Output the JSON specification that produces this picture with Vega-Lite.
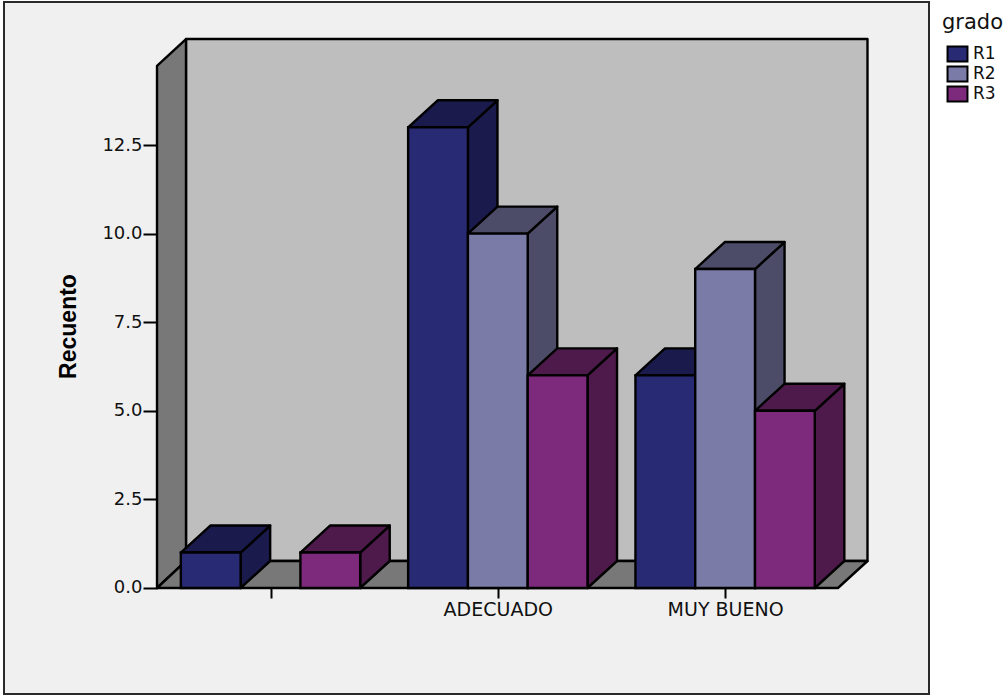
{
  "$schema": "https://vega.github.io/schema/vega-lite/v6.json",
  "width": 925,
  "height": 692,
  "autosize": {"type": "none"},
  "padding": {"left": 4, "top": 2, "right": 77, "bottom": 1},
  "background": "#ffffff",
  "view": {"fill": "#f0f0f0", "stroke": "#2a2a2a", "strokeWidth": 2},
  "data": {"values": [
    {"categoria": "", "grado": "R1", "valor": 1},
    {"categoria": "", "grado": "R3", "valor": 1},
    {"categoria": "ADECUADO", "grado": "R1", "valor": 13},
    {"categoria": "ADECUADO", "grado": "R2", "valor": 10},
    {"categoria": "ADECUADO", "grado": "R3", "valor": 6},
    {"categoria": "MUY BUENO", "grado": "R1", "valor": 6},
    {"categoria": "MUY BUENO", "grado": "R2", "valor": 9},
    {"categoria": "MUY BUENO", "grado": "R3", "valor": 5}
  ]},
  "transform": [
    {"calculate": "indexof(['', 'ADECUADO', 'MUY BUENO'], datum.categoria) + (indexof(['R1', 'R2', 'R3'], datum.grado) - 1.5) * 0.263", "as": "izq"},
    {"calculate": "datum.izq + 0.263", "as": "der"},
    {"calculate": "datum.categoria + '-' + datum.grado", "as": "barra"}
  ],
  "encoding": {
    "x": {
      "field": "cx",
      "type": "quantitative",
      "scale": {"domain": [-1.1725, 2.897], "nice": false, "zero": false},
      "axis": {
        "values": [0, 1, 2],
        "labelExpr": "['', 'ADECUADO', 'MUY BUENO'][datum.value]",
        "title": null,
        "grid": false,
        "domain": false,
        "offset": -106,
        "tickSize": 10,
        "tickWidth": 2,
        "tickColor": "#000000",
        "labelFont": "DejaVu Sans",
        "labelFontSize": 19,
        "labelColor": "#111111",
        "labelPadding": 2,
        "labelOverlap": false
      }
    },
    "y": {
      "field": "cy",
      "type": "quantitative",
      "stack": null,
      "scale": {"domain": [-2.991, 16.535], "nice": false, "zero": false},
      "axis": {
        "values": [0, 2.5, 5, 7.5, 10, 12.5],
        "format": ".1f",
        "title": "Recuento",
        "titleFont": "Liberation Sans",
        "titleFontWeight": "bold",
        "titleFontSize": 23,
        "titleColor": "#000000",
        "titleX": -77,
        "titleY": 324,
        "grid": false,
        "domain": false,
        "offset": -153,
        "tickSize": 14,
        "tickWidth": 2,
        "tickColor": "#000000",
        "labelFont": "DejaVu Sans",
        "labelFontSize": 18,
        "labelColor": "#111111",
        "labelPadding": 1
      }
    },
    "y2": {"field": "cy2"}
  },
  "layer": [
    {
      "data": {"values": [
        {"pared": "fondo", "cx": -0.3718, "cy": 15.49, "cy2": 0.762},
        {"pared": "fondo", "cx": 2.6264, "cy": 15.49, "cy2": 0.762},
        {"pared": "lateral", "cx": -0.4993, "cy": 14.73, "cy2": 0},
        {"pared": "lateral", "cx": -0.3718, "cy": 15.49, "cy2": 0.762},
        {"pared": "suelo", "cx": -0.4993, "cy": 0, "cy2": 0},
        {"pared": "suelo", "cx": -0.3718, "cy": 0.762, "cy2": 0},
        {"pared": "suelo", "cx": 2.4964, "cy": 0.762, "cy2": 0},
        {"pared": "suelo", "cx": 2.6264, "cy": 0.762, "cy2": 0.762}
      ]},
      "mark": {"type": "area", "stroke": "#000000", "strokeWidth": 2.4, "strokeJoin": "round", "opacity": 1},
      "encoding": {
        "color": {
          "field": "pared",
          "type": "nominal",
          "scale": {"domain": ["fondo", "lateral", "suelo"], "range": ["#bebebe", "#787878", "#787878"]},
          "legend": null
        }
      }
    },
    {
      "transform": [
        {"calculate": "[datum.der, datum.der + 0.13]", "as": "cx"},
        {"calculate": "[datum.valor, datum.valor + 0.762]", "as": "cy"},
        {"calculate": "[0, 0.762]", "as": "cy2"},
        {"flatten": ["cx", "cy", "cy2"]}
      ],
      "mark": {"type": "area", "stroke": "#000000", "strokeWidth": 2.4, "strokeJoin": "round", "opacity": 1},
      "encoding": {
        "detail": {"field": "barra"},
        "color": {
          "field": "grado",
          "type": "nominal",
          "scale": {"domain": ["R1", "R2", "R3"], "range": ["#1a1b4c", "#4c4c68", "#4e1a4c"]},
          "legend": null
        }
      }
    },
    {
      "transform": [
        {"calculate": "[datum.izq, datum.izq + 0.13, datum.der, datum.der + 0.13]", "as": "cx"},
        {"calculate": "[datum.valor, datum.valor + 0.762, datum.valor + 0.762, datum.valor + 0.762]", "as": "cy"},
        {"calculate": "[datum.valor, datum.valor, datum.valor, datum.valor + 0.762]", "as": "cy2"},
        {"flatten": ["cx", "cy", "cy2"]}
      ],
      "mark": {"type": "area", "stroke": "#000000", "strokeWidth": 2.4, "strokeJoin": "round", "opacity": 1},
      "encoding": {
        "detail": {"field": "barra"},
        "color": {
          "field": "grado",
          "type": "nominal",
          "scale": {"domain": ["R1", "R2", "R3"], "range": ["#1a1b4c", "#4c4c68", "#4e1a4c"]},
          "legend": null
        }
      }
    },
    {
      "mark": {"type": "bar", "stroke": "#000000", "strokeWidth": 2.4, "opacity": 1},
      "encoding": {
        "x": {
          "field": "izq",
          "type": "quantitative",
          "scale": {"domain": [-1.1725, 2.897], "nice": false, "zero": false},
          "axis": {
            "values": [0, 1, 2],
            "labelExpr": "['', 'ADECUADO', 'MUY BUENO'][datum.value]",
            "title": null,
            "grid": false,
            "domain": false,
            "offset": -106,
            "tickSize": 10,
            "tickWidth": 2,
            "tickColor": "#000000",
            "labelFont": "DejaVu Sans",
            "labelFontSize": 19,
            "labelColor": "#111111",
            "labelPadding": 2,
            "labelOverlap": false
          }
        },
        "x2": {"field": "der"},
        "y": {
          "field": "valor",
          "type": "quantitative",
          "stack": null,
          "scale": {"domain": [-2.991, 16.535], "nice": false, "zero": false},
          "axis": {
            "values": [0, 2.5, 5, 7.5, 10, 12.5],
            "format": ".1f",
            "title": "Recuento",
            "titleFont": "Liberation Sans",
            "titleFontWeight": "bold",
            "titleFontSize": 23,
            "titleColor": "#000000",
            "titleX": -77,
            "titleY": 324,
            "grid": false,
            "domain": false,
            "offset": -153,
            "tickSize": 14,
            "tickWidth": 2,
            "tickColor": "#000000",
            "labelFont": "DejaVu Sans",
            "labelFontSize": 18,
            "labelColor": "#111111",
            "labelPadding": 1
          }
        },
        "y2": {"datum": 0},
        "color": {
          "field": "grado",
          "type": "nominal",
          "scale": {"domain": ["R1", "R2", "R3"], "range": ["#282a74", "#7b7ba8", "#7e2a7c"]},
          "legend": {
            "orient": "none",
            "legendX": 938,
            "legendY": 10,
            "title": "grado",
            "titleFont": "DejaVu Sans",
            "titleFontSize": 21,
            "titleFontWeight": "normal",
            "titleColor": "#111111",
            "titlePadding": 11,
            "labelFont": "DejaVu Sans",
            "labelFontSize": 17,
            "labelColor": "#111111",
            "labelOffset": 7,
            "symbolOffset": 7,
            "symbolType": "M-1.33,-1H1.33V1H-1.33Z",
            "symbolSize": 225,
            "symbolStrokeColor": "#000000",
            "symbolStrokeWidth": 2,
            "symbolOpacity": 1,
            "clipHeight": 20,
            "rowPadding": 0,
            "padding": 0
          }
        }
      }
    }
  ],
  "resolve": {"scale": {"color": "independent"}}
}
